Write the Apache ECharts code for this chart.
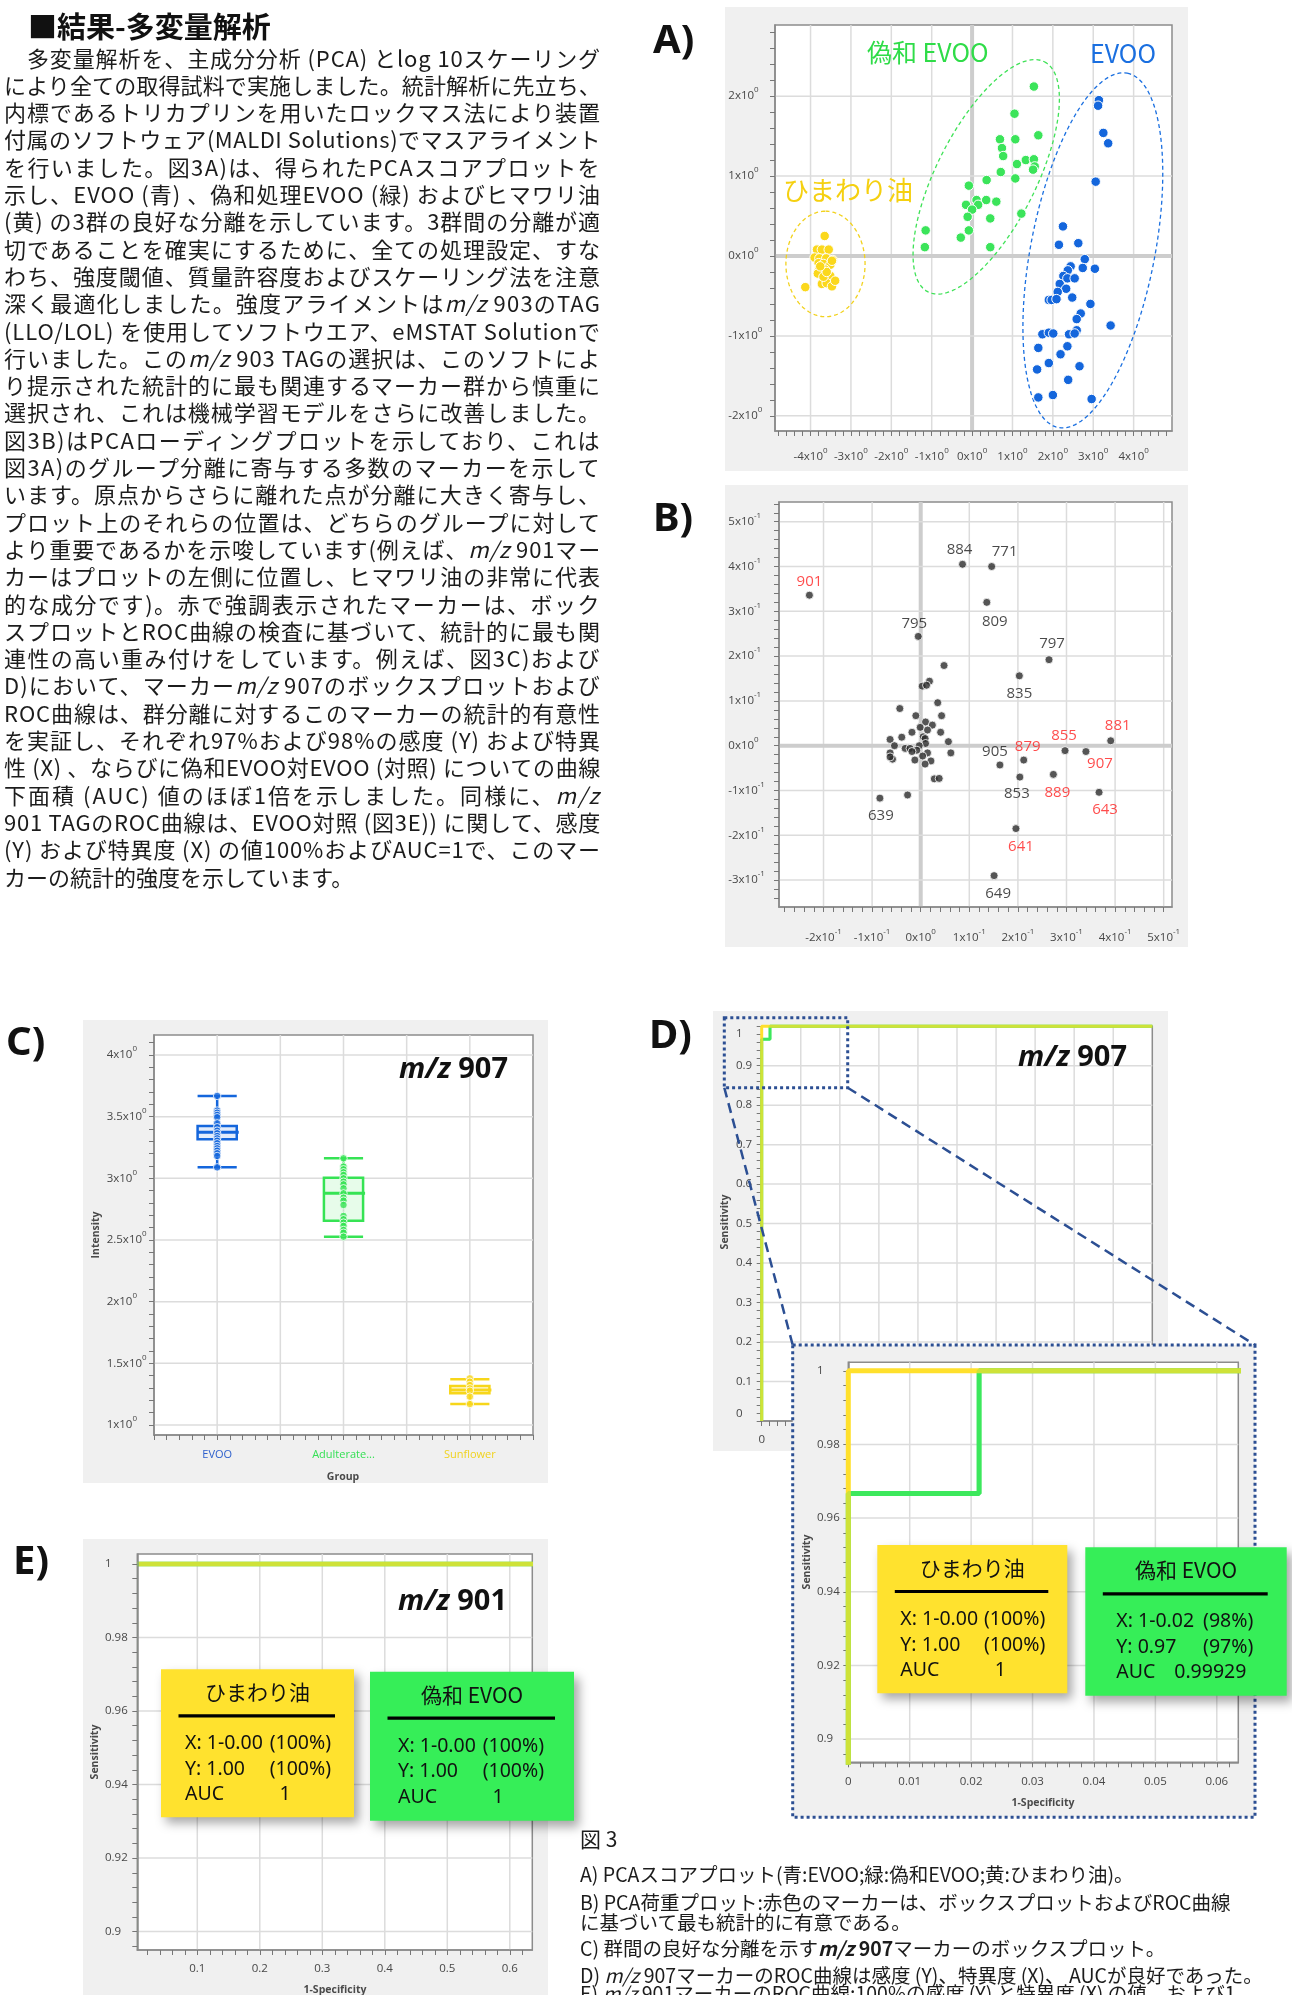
<!DOCTYPE html>
<html lang="ja">
<head>
<meta charset="utf-8">
<title>結果-多変量解析 図3</title>
<script src="https://cdn.jsdelivr.net/npm/echarts@6/dist/echarts.min.js"></script>
<style>
html, body { margin: 0; padding: 0; background: #fff; }
#page { position: relative; width: 1292px; height: 1995px; overflow: hidden; }
#chart { position: absolute; left: 0; top: 0; width: 1292px; height: 1995px; }
.txt { position: absolute; z-index: 2; font-family: "Noto Sans CJK JP", "Noto Sans", sans-serif; color: #1c1c1c; white-space: nowrap; }
#title { left: 28px; top: 6px; font-size: 29px; font-weight: 700; line-height: 38px; color: #111; }
.pline { position: absolute; left: 4px; font-size: 22px; line-height: 27px; height: 27px; }
.pline span { white-space: nowrap; }
.cline { position: absolute; left: 580px; font-size: 19.5px; line-height: 24px; height: 24px; }
</style>
</head>
<body>
<div id="page">
  <div id="chart"></div>
  <div id="title" class="txt">■結果-多変量解析</div>
  <div id="para"></div>
  <div id="caption"></div>
</div>
<script>
// ---------------- body text ----------------
const bodyLines = [
  '　多変量解析を、主成分分析 (PCA) とlog 10スケーリング',
  'により全ての取得試料で実施しました。統計解析に先立ち、',
  '内標であるトリカプリンを用いたロックマス法により装置',
  '付属のソフトウェア(MALDI Solutions)でマスアライメント',
  'を行いました。図3A)は、得られたPCAスコアプロットを',
  '示し、EVOO (青) 、偽和処理EVOO (緑) およびヒマワリ油',
  '(黄) の3群の良好な分離を示しています。3群間の分離が適',
  '切であることを確実にするために、全ての処理設定、すな',
  'わち、強度閾値、質量許容度およびスケーリング法を注意',
  '深く最適化しました。強度アライメントは<i>m/z</i> 903のTAG',
  '(LLO/LOL) を使用してソフトウエア、eMSTAT Solutionで',
  '行いました。この<i>m/z</i> 903 TAGの選択は、このソフトによ',
  'り提示された統計的に最も関連するマーカー群から慎重に',
  '選択され、これは機械学習モデルをさらに改善しました。',
  '図3B)はPCAローディングプロットを示しており、これは',
  '図3A)のグループ分離に寄与する多数のマーカーを示して',
  'います。原点からさらに離れた点が分離に大きく寄与し、',
  'プロット上のそれらの位置は、どちらのグループに対して',
  'より重要であるかを示唆しています(例えば、<i>m/z</i> 901マー',
  'カーはプロットの左側に位置し、ヒマワリ油の非常に代表',
  '的な成分です)。赤で強調表示されたマーカーは、ボック',
  'スプロットとROC曲線の検査に基づいて、統計的に最も関',
  '連性の高い重み付けをしています。例えば、図3C)および',
  'D)において、マーカー<i>m/z</i> 907のボックスプロットおよび',
  'ROC曲線は、群分離に対するこのマーカーの統計的有意性',
  'を実証し、それぞれ97%および98%の感度 (Y) および特異',
  '性 (X) 、ならびに偽和EVOO対EVOO (対照) についての曲線',
  '下面積 (AUC) 値のほぼ1倍を示しました。同様に、<i>m/z</i>',
  '901 TAGのROC曲線は、EVOO対照 (図3E)) に関して、感度',
  '(Y) および特異度 (X) の値100%およびAUC=1で、このマー',
  'カーの統計的強度を示しています。'
];
const captionLines = [
  '図 3',
  'A) PCAスコアプロット(青:EVOO;緑:偽和EVOO;黄:ひまわり油)。',
  'B)  PCA荷重プロット:赤色のマーカーは、ボックスプロットおよびROC曲線',
  'に基づいて最も統計的に有意である。',
  'C) 群間の良好な分離を示す<b><i>m/z</i> 907</b>マーカーのボックスプロット。',
  'D) <i>m/z</i> 907マーカーのROC曲線は感度 (Y)、特異度 (X)、 AUCが良好であった。',
  'E)  <i>m/z</i> 901マーカーのROC曲線:100%の感度 (Y) と特異度 (X) の値、および1'
];
const captionCenters = [1838, 1874, 1902, 1922, 1948, 1975, 1993];

const para = document.getElementById('para');
bodyLines.forEach((s, i) => {
  const d = document.createElement('div');
  d.className = 'pline txt';
  d.style.top = (57 - 13.5 + i * 27.3) + 'px';
  const sp = document.createElement('span');
  sp.innerHTML = s;
  d.appendChild(sp);
  para.appendChild(d);
  // justify every line except the paragraph's last one
  const target = 597;
  const w = sp.getBoundingClientRect().width;
  if (i === bodyLines.length - 1) return;
  if (w > target) {
    sp.style.display = 'inline-block';
    sp.style.transformOrigin = '0 50%';
    sp.style.transform = 'scaleX(' + (target / w) + ')';
  } else {
    const n = sp.textContent.length;
    sp.style.letterSpacing = ((target - w) / n) + 'px';
  }
});
const cap = document.getElementById('caption');
captionLines.forEach((s, i) => {
  const d = document.createElement('div');
  d.className = 'cline txt';
  d.style.top = (captionCenters[i] - 12) + 'px';
  if (i === 0) d.style.fontSize = '21px';
  d.innerHTML = s;
  cap.appendChild(d);
});

// ---------------- A) PCA score plot ----------------
const pcaSunflower = [
  [-3.65, 0.25], [-3.84, 0.08], [-3.72, 0.08], [-3.55, 0.08], [-3.90, -0.02], [-3.78, -0.03],
  [-3.61, -0.03], [-3.45, -0.05], [-3.80, -0.09], [-3.68, -0.10], [-3.51, -0.11], [-3.79, -0.17],
  [-3.64, -0.17], [-3.82, -0.22], [-3.51, -0.25], [-3.72, -0.35], [-3.60, -0.34], [-3.47, -0.38],
  [-3.39, -0.31], [-4.13, -0.39], [-3.68, -0.26], [-3.60, -0.20], [-3.76, -0.13], [-3.47, -0.06]
];
const pcaAdulterated = [
  [1.53, 2.12], [1.05, 1.78], [0.69, 1.46], [1.07, 1.46], [1.64, 1.51], [0.74, 1.35],
  [0.77, 1.25], [1.33, 1.20], [1.53, 1.21], [1.11, 1.15], [1.55, 1.12], [1.51, 1.08],
  [0.71, 1.05], [1.07, 0.97], [0.36, 0.95], [-0.08, 0.88], [0.35, 0.70], [0.11, 0.70],
  [0.15, 0.64], [-0.15, 0.64], [0.60, 0.68], [0.00, 0.58], [1.22, 0.53], [-0.11, 0.49],
  [0.45, 0.47], [-0.08, 0.32], [-1.15, 0.32], [-0.28, 0.23], [-1.17, 0.11], [0.45, 0.11]
];
const pcaEvoo = [
  [3.14, 1.95], [3.12, 1.88], [3.25, 1.54], [3.37, 1.41], [3.06, 0.93], [2.25, 0.37],
  [2.15, 0.14], [2.63, 0.16], [2.79, -0.04], [2.44, -0.13], [2.74, -0.15], [3.04, -0.16],
  [2.37, -0.18], [2.26, -0.25], [2.36, -0.28], [2.54, -0.28], [2.17, -0.35], [2.33, -0.41],
  [2.12, -0.45], [2.48, -0.52], [1.90, -0.55], [1.97, -0.55], [2.09, -0.54], [2.93, -0.60],
  [2.69, -0.72], [2.59, -0.79], [3.43, -0.87], [2.59, -0.93], [1.74, -0.98], [1.90, -0.96],
  [2.01, -0.97], [2.40, -0.98], [2.54, -0.97], [1.64, -1.15], [2.36, -1.13], [2.19, -1.23],
  [1.90, -1.34], [2.66, -1.38], [1.61, -1.42], [2.38, -1.55], [1.64, -1.77], [2.00, -1.74],
  [2.96, -1.79]
];
// group ellipses: centre, major semi-axis vector, minor semi-axis vector (score units)
const ellipseSunflower = { center: [-3.63, -0.10], major: [0, 0.66], minor: [0.98, 0] };
const ellipseAdulterated = { center: [0.35, 0.99], major: [1.44, 1.44], minor: [1.10, -0.28] };
const ellipseEvoo = { center: [2.99, 0.07], major: [0.853, 2.217], minor: [1.507, -0.148] };
const pcaXTicks = [-4, -3, -2, -1, 0, 1, 2, 3, 4];
const pcaYTicks = [-2, -1, 0, 1, 2];

// ---------------- B) PCA loading plot ----------------
const loadingNames = ['901', '884', '771', '809', '795', '797', '835', '881', '855', '907', '879', '905', '853', '889', '643', '641', '649', '639'];
const loadingLabeled = [
  [-0.229, 0.336], [0.086, 0.405], [0.146, 0.400], [0.136, 0.320], [-0.005, 0.244], [0.264, 0.192],
  [0.203, 0.156], [0.391, 0.011], [0.297, -0.011], [0.340, -0.013], [0.212, -0.032], [0.163, -0.043],
  [0.204, -0.070], [0.273, -0.064], [0.367, -0.104], [0.196, -0.185], [0.151, -0.290], [-0.084, -0.117]
];
const loadingOthers = [
  [0.048, 0.179], [0.018, 0.144], [0.003, 0.133], [0.012, 0.135], [0.035, 0.096], [-0.043, 0.083],
  [-0.010, 0.067], [0.043, 0.067], [0.010, 0.053], [-0.001, 0.041], [0.024, 0.046], [0.014, 0.035],
  [-0.018, 0.030], [0.041, 0.030], [-0.039, 0.019], [-0.063, 0.014], [0.005, 0.020], [0.009, 0.016],
  [0.057, 0.009], [-0.054, 0.000], [0.010, 0.005], [-0.003, 0.000], [-0.032, -0.006], [-0.022, -0.006],
  [-0.008, -0.010], [-0.063, -0.016], [-0.018, -0.013], [0.014, -0.016], [0.062, -0.016], [0.004, -0.023],
  [-0.012, -0.032], [-0.058, -0.030], [0.021, -0.034], [0.009, -0.041], [0.028, -0.074], [0.038, -0.073],
  [-0.027, -0.110], [-0.063, -0.025]
];
const significantMarkers = ['901', '881', '855', '907', '879', '889', '643', '641'];
const loadingXTicks = [-0.2, -0.1, 0, 0.1, 0.2, 0.3, 0.4, 0.5];
const loadingYTicks = [-0.3, -0.2, -0.1, 0, 0.1, 0.2, 0.3, 0.4, 0.5];

// ---------------- C) m/z 907 box plot ----------------
const boxGroups = ['EVOO', 'Adulterate...', 'Sunflower'];
// [min, Q1, median, Q3, max]
const evooStats907 = [3.089, 3.316, 3.373, 3.424, 3.668];
const adulteratedStats907 = [2.527, 2.657, 2.878, 3.005, 3.162];
const sunflowerStats907 = [1.170, 1.257, 1.284, 1.316, 1.370];
const evooIntensity907 = [3.668, 3.549, 3.532, 3.514, 3.495, 3.446, 3.414, 3.386, 3.365, 3.343, 3.324, 3.305, 3.284, 3.262, 3.243, 3.224, 3.203, 3.181, 3.089];
const adulteratedIntensity907 = [3.162, 3.095, 3.073, 3.049, 3.027, 3.000, 2.973, 2.951, 2.919, 2.878, 2.843, 2.819, 2.784, 2.695, 2.668, 2.641, 2.614, 2.581, 2.559, 2.527];
const sunflowerIntensity907 = [1.378, 1.351, 1.324, 1.297, 1.278, 1.230, 1.170];
const intensityTicks = [1, 1.5, 2, 2.5, 3, 3.5, 4];

// ---------------- D) / E) ROC curves ----------------
const rocSunflower907 = [[0, 0], [0, 1], [1, 1]];
const rocAdulterated907 = [[0, 0], [0, 0.9667], [0.0213, 0.9667], [0.0213, 1], [1, 1]];
const cutSunflower907 = [0, 1];           // [1-specificity, sensitivity] at the chosen cut-off
const cutAdulterated907 = [0.0213, 0.9667];
const rocSunflower901 = [[0, 0], [0, 1], [1, 1]];
const rocAdulterated901 = [[0, 0], [0, 1], [1, 1]];
const cutSunflower901 = [0, 1];
const cutAdulterated901 = [0, 1];
const rocMainTicks = [0, 0.1, 0.2, 0.3, 0.4, 0.5, 0.6, 0.7, 0.8, 0.9, 1];
const rocZoomXTicks = [0, 0.01, 0.02, 0.03, 0.04, 0.05, 0.06];
const sensZoomTicks = [0.9, 0.92, 0.94, 0.96, 0.98, 1];
const specTicks901 = [0.1, 0.2, 0.3, 0.4, 0.5, 0.6];

// ---------------- styling ----------------
const FONT = '"Open Sans", "Noto Sans", sans-serif';
const JP = '"Noto Sans CJK JP", "Noto Sans", sans-serif';
const C_EVOO = '#1466dc', C_ADUL = '#3be45a', C_SUN = '#fbd81c';
const ROC_GREEN = '#3ce85c', ROC_YELLOW = '#ffe02c';
const LABEL_C = '#474747';

function steps(a, b, s) {
  const out = [];
  const n = Math.round((b - a) / s);
  for (let i = 0; i <= n; i++) out.push(+(a + i * s).toFixed(6));
  return out;
}
function trimNum(v) { return String(+v.toFixed(4)); }
function aucOf(curve) {
  let a = 0;
  for (let i = 1; i < curve.length; i++) a += (curve[i][0] - curve[i - 1][0]) * (curve[i][1] + curve[i - 1][1]) / 2;
  return a;
}

const supRich = {
  b: { fontSize: 11.5, fontFamily: FONT, color: LABEL_C, lineHeight: 14 },
  s: { fontSize: 8, fontFamily: FONT, color: LABEL_C, lineHeight: 9, padding: [0, 0, 12, 0] }
};
const sciPow0 = v => '{b|' + trimNum(v) + 'x10}{s|0}';
const sciLoading = v => {
  const m = Math.round(v * 10);
  return m === 0 ? '{b|0x10}{s|0}' : '{b|' + m + 'x10}{s|-1}';
};

function axis(gridIndex, min, max, ticks, labels, formatter, labelOpt, z) {
  return {
    type: 'value', gridIndex, min, max, z,
    axisLine: { show: true, onZero: false, lineStyle: { color: '#8a8a8a', width: 1.5 } },
    axisTick: { show: true, customValues: ticks, length: 5, lineStyle: { color: '#777', width: 1 } },
    minorTick: { show: false },
    splitLine: { show: false },
    axisLabel: Object.assign({
      show: true, customValues: labels, formatter, color: LABEL_C,
      fontSize: 11.5, fontFamily: FONT, hideOverlap: false
    }, labelOpt)
  };
}

function gridLineSeries(idx, xs, ys, z, thickZero) {
  const data = [];
  xs.forEach(v => data.push([0, v, thickZero && v === 0 ? 4 : 1.5]));
  ys.forEach(v => data.push([1, v, thickZero && v === 0 ? 4 : 1.5]));
  return {
    type: 'custom', xAxisIndex: idx, yAxisIndex: idx, z, silent: true, clip: false, data,
    renderItem: (params, api) => {
      const cs = params.coordSys;
      const dir = api.value(0), v = api.value(1), w = api.value(2);
      const stroke = w > 2 ? '#cdcdcd' : '#dcdcdc';
      if (dir === 0) {
        const x = api.coord([v, 1])[0];
        return { type: 'line', shape: { x1: x, y1: cs.y, x2: x, y2: cs.y + cs.height }, style: { stroke, lineWidth: w } };
      }
      const y = api.coord([0, v])[1];
      return { type: 'line', shape: { x1: cs.x, y1: y, x2: cs.x + cs.width, y2: y }, style: { stroke, lineWidth: w } };
    }
  };
}

// ROC curves: green, then yellow, then a faint green pass so the shared stretches read lime
function rocSeries(idx, green, yellow, width, z, clip) {
  const base = { type: 'line', xAxisIndex: idx, yAxisIndex: idx, showSymbol: false, symbol: 'none', silent: true, clip };
  return [
    Object.assign({}, base, { data: green, z, lineStyle: { color: ROC_GREEN, width } }),
    Object.assign({}, base, { data: yellow, z: z + 1, lineStyle: { color: ROC_YELLOW, width } }),
    Object.assign({}, base, { data: green, z: z + 2, lineStyle: { color: ROC_GREEN, width, opacity: 0.25 } })
  ];
}
// same layering, drawn as a custom polyline so the clip follows the plot frame exactly
function rocCustomSeries(idx, green, yellow, width, z) {
  const layer = (curve, color, opacity, zz) => ({
    type: 'custom', xAxisIndex: idx, yAxisIndex: idx, z: zz, silent: true, clip: true, data: curve,
    renderItem: (params, api) => params.dataIndex !== 0 ? null : {
      type: 'polyline',
      shape: { points: curve.map(p => api.coord(p)) },
      style: { stroke: color, lineWidth: width, opacity, fill: 'none' }
    }
  });
  return [layer(green, ROC_GREEN, 1, z), layer(yellow, ROC_YELLOW, 1, z + 1), layer(green, ROC_GREEN, 0.25, z + 2)];
}

// ---------------- layout ----------------
const grids = [
  { left: 775, top: 25, width: 397, height: 406 },        // A
  { left: 779, top: 502, width: 393, height: 405 },       // B
  { left: 154, top: 1035, width: 379, height: 400 },      // C
  { left: 761.7, top: 1026.2, width: 390.6, height: 394.8 }, // D
  { left: 848.3, top: 1362.3, width: 390, height: 400 },  // D zoom
  { left: 137.3, top: 1554, width: 395, height: 396 }     // E
].map((g, i) => Object.assign({
  show: true, backgroundColor: '#fff', borderColor: '#8c8c8c', borderWidth: 1.5, z: i === 4 ? 11 : 1
}, g));

const rocYRich = {
  n: { fontSize: 11.5, fontFamily: FONT, color: LABEL_C },
  dn: { fontSize: 11.5, fontFamily: FONT, color: LABEL_C, padding: [16, 0, 0, 0] },
  up: { fontSize: 11.5, fontFamily: FONT, color: LABEL_C, padding: [0, 0, 14, 0] }
};
const catColors = { g0: '#2c5fcc', g1: '#35e055', g2: '#f0d320' };
const catRich = {};
Object.keys(catColors).forEach(k => { catRich[k] = { color: catColors[k], fontSize: 11, fontFamily: FONT }; });

const xAxes = [
  axis(0, -4.88, 4.95, steps(-4.8, 4.8, 0.2), pcaXTicks, sciPow0, { margin: 19, rich: supRich }, 4),
  axis(1, -0.2916, 0.5171, steps(-0.28, 0.5, 0.02), loadingXTicks, sciLoading, { margin: 24, rich: supRich }, 4),
  axis(2, 0, 3, steps(0, 3, 0.1), [0.5, 1.5, 2.5], v => { const i = Math.floor(v); return '{g' + i + '|' + boxGroups[i] + '}'; }, { margin: 14, rich: catRich }, 4),
  axis(3, 0, 1, steps(0, 1, 0.02), rocMainTicks, trimNum, { margin: 13 }, 4),
  axis(4, 0, 0.0635, steps(0, 0.062, 0.002), rocZoomXTicks, trimNum, { margin: 13 }, 12),
  axis(5, 0.004, 0.636, steps(0.02, 0.62, 0.02), specTicks901, trimNum, { margin: 13 }, 4)
];
const yAxes = [
  axis(0, -2.19, 2.89, steps(-2.0, 2.8, 0.2), pcaYTicks, sciPow0, { margin: 46.7, align: 'left', rich: supRich }, 4),
  axis(1, -0.36, 0.544, steps(-0.34, 0.54, 0.02), loadingYTicks, sciLoading, { margin: 50.7, align: 'left', rich: supRich }, 4),
  axis(2, 0.919, 4.162, steps(1.0, 4.1, 0.1), intensityTicks, sciPow0, { margin: 47.3, align: 'left', rich: supRich }, 4),
  axis(3, 0, 1, steps(0, 1, 0.02), rocMainTicks, v => v === 1 ? '{dn|1}' : v === 0 ? '{up|0}' : '{n|' + trimNum(v) + '}', { margin: 25.7, align: 'left', rich: rocYRich }, 4),
  axis(4, 0.8937, 1.0023, steps(0.896, 1.0, 0.004), sensZoomTicks, trimNum, { margin: 31.3, align: 'left' }, 12),
  axis(5, 0.895, 1.0027, steps(0.896, 1.0, 0.004), sensZoomTicks, trimNum, { margin: 32.3, align: 'left' }, 4)
];

// ---------------- series ----------------
const series = [];
// A
series.push(gridLineSeries(0, pcaXTicks, pcaYTicks, 2, true));
const ellipses = [ellipseSunflower, ellipseAdulterated, ellipseEvoo];
const ellipseColors = ['#f2d21e', '#3fe257', '#1a6fe0'];
series.push({
  type: 'custom', xAxisIndex: 0, yAxisIndex: 0, z: 3, silent: true, clip: false,
  data: ellipses.map((e, i) => [e.center[0], e.center[1], i]),
  renderItem: (params, api) => {
    const e = ellipses[params.dataIndex];
    const pts = [];
    for (let k = 0; k <= 144; k++) {
      const t = k / 144 * 2 * Math.PI;
      pts.push(api.coord([
        e.center[0] + e.major[0] * Math.cos(t) + e.minor[0] * Math.sin(t),
        e.center[1] + e.major[1] * Math.cos(t) + e.minor[1] * Math.sin(t)
      ]));
    }
    return { type: 'polyline', shape: { points: pts }, style: { stroke: ellipseColors[params.dataIndex], lineWidth: 1.3, lineDash: [4, 3], fill: 'none' } };
  }
});
[[pcaSunflower, C_SUN], [pcaAdulterated, C_ADUL], [pcaEvoo, C_EVOO]].forEach(([d, c]) => {
  series.push({
    type: 'scatter', xAxisIndex: 0, yAxisIndex: 0, z: 4, silent: true, data: d, symbolSize: 9.5,
    itemStyle: { color: c, borderColor: '#fff', borderWidth: 1, opacity: 1 }
  });
});

// B
series.push(gridLineSeries(1, loadingXTicks, loadingYTicks, 2, true));
series.push({
  type: 'scatter', xAxisIndex: 1, yAxisIndex: 1, z: 4, silent: true, data: loadingOthers, symbolSize: 8,
  itemStyle: { color: '#2a2a2a', borderColor: '#fff', borderWidth: 1 }
});
// label placement: [position, dx, dy]
const loadingLabelPlace = {
  '901': ['top', 0, 2], '884': ['top', -3, 0], '771': ['top', 13, 0], '809': ['bottom', 8, 4],
  '795': ['top', -4, 2], '797': ['top', 3, -1], '835': ['bottom', 0, 3], '881': ['top', 7, 0],
  '855': ['top', -1, 0], '907': ['bottom', 14, -3], '879': ['top', 4, 2], '905': ['top', -5, 2],
  '853': ['bottom', -3, 2], '889': ['bottom', 4, 3], '643': ['bottom', 6, 2], '641': ['bottom', 5, 3],
  '649': ['bottom', 4, 3], '639': ['bottom', 1, 3]
};
series.push({
  type: 'scatter', xAxisIndex: 1, yAxisIndex: 1, z: 5, silent: true, symbolSize: 8,
  itemStyle: { color: '#2a2a2a', borderColor: '#fff', borderWidth: 1 },
  label: { show: true, formatter: '{b}', fontSize: 15, fontFamily: FONT, distance: 3 },
  data: loadingLabeled.map((p, i) => {
    const name = loadingNames[i];
    const pl = loadingLabelPlace[name];
    return {
      value: p, name,
      label: { position: pl[0], offset: [pl[1], pl[2]], color: significantMarkers.includes(name) ? '#ff1f1f' : '#1c1c1c' }
    };
  })
});

// C
series.push(gridLineSeries(2, [0.5, 1, 1.5, 2, 2.5], intensityTicks, 2, false));
const boxStats = [evooStats907, adulteratedStats907, sunflowerStats907];
const boxColors = [C_EVOO, '#36e354', '#f7d61a'];
const boxFills = ['rgba(20,102,220,0.12)', 'rgba(54,227,84,0.12)', 'rgba(247,214,26,0.15)'];
series.push({
  type: 'custom', xAxisIndex: 2, yAxisIndex: 2, z: 3, silent: true,
  data: boxStats.map((s, i) => [i + 0.5].concat(s)),
  renderItem: (params, api) => {
    const x = api.value(0);
    const lo = api.value(1), q1 = api.value(2), med = api.value(3), q3 = api.value(4), hi = api.value(5);
    const c = boxColors[params.dataIndex];
    const half = 0.155;
    const xl = api.coord([x - half, med])[0], xr = api.coord([x + half, med])[0], xc = api.coord([x, med])[0];
    const y = v => api.coord([x, v])[1];
    const st = { stroke: c, lineWidth: 2.5 };
    return {
      type: 'group', children: [
        { type: 'rect', shape: { x: xl, y: y(q3), width: xr - xl, height: y(q1) - y(q3) }, style: { fill: boxFills[params.dataIndex], stroke: c, lineWidth: 2.5 } },
        { type: 'line', shape: { x1: xc, y1: y(hi), x2: xc, y2: y(q3) }, style: st },
        { type: 'line', shape: { x1: xc, y1: y(q1), x2: xc, y2: y(lo) }, style: st },
        { type: 'line', shape: { x1: xl, y1: y(hi), x2: xr, y2: y(hi) }, style: st },
        { type: 'line', shape: { x1: xl, y1: y(lo), x2: xr, y2: y(lo) }, style: st },
        { type: 'line', shape: { x1: xl, y1: y(med), x2: xr + 2, y2: y(med) }, style: { stroke: c, lineWidth: 3 } }
      ]
    };
  }
});
[[evooIntensity907, 0, C_EVOO], [adulteratedIntensity907, 1, '#36e354'], [sunflowerIntensity907, 2, '#f7d61a']].forEach(([d, i, c]) => {
  series.push({
    type: 'scatter', xAxisIndex: 2, yAxisIndex: 2, z: 4, silent: true, symbolSize: 7.5,
    data: d.map(v => [i + 0.5, v]),
    itemStyle: { color: c, borderColor: '#fff', borderWidth: 1 }
  });
});

// D main
series.push(gridLineSeries(3, steps(0.1, 0.9, 0.1), steps(0.1, 0.9, 0.1), 2, false));
series.push(...rocSeries(3, rocAdulterated907, rocSunflower907, 3, 3, false));
// D zoom
series.push(gridLineSeries(4, [0.01, 0.02, 0.03, 0.04, 0.05, 0.06], sensZoomTicks, 12, false));
series.push(...rocSeries(4, rocAdulterated907, rocSunflower907, 5, 13, true));
// E
series.push(gridLineSeries(5, specTicks901, sensZoomTicks, 2, false));
series.push(...rocCustomSeries(5, rocAdulterated901, rocSunflower901, 4.5, 3));

// ---------------- annotations ----------------
function txt(x, y, text, o, z) {
  return {
    type: 'text', x, y, z: z || 5, silent: true,
    style: Object.assign({ text, fill: '#111', fontFamily: FONT, fontSize: 12, align: 'left', verticalAlign: 'middle' }, o)
  };
}
function mzTitle(xRight, yc, mz) {
  return txt(xRight, yc, '{i|m/z}{b| ' + mz + '}', {
    align: 'right',
    rich: {
      i: { fontFamily: FONT, fontSize: 29, fontWeight: 'bold', fontStyle: 'italic', fill: '#111' },
      b: { fontFamily: FONT, fontSize: 29, fontWeight: 'bold', fill: '#111' }
    }
  }, 6);
}
function axisName(x, y, text, rotate, z) {
  const e = txt(x, y, text, { fontSize: 10.5, fontWeight: 'bold', fill: '#4a4a4a', align: 'center' }, z);
  if (rotate) e.rotation = Math.PI / 2;
  return e;
}
function fmtAuc(a) { return a > 0.999995 ? '1' : a.toFixed(5); }
// statistic box drawn as absolute elements (each with its own z so it sits above the plots)
function statBox(b, title, cut, curve) {
  const fpr = cut[0], sens = cut[1];
  const rows = [
    ['X: 1-' + fpr.toFixed(2), '(' + Math.round((1 - fpr) * 100) + '%)'],
    ['Y: ' + sens.toFixed(2), '(' + Math.round(sens * 100) + '%)']
  ];
  const rowY = [74.5, 100, 125.3];
  const f = { fontFamily: '"Noto Sans", "Open Sans", sans-serif', fontSize: 19.5, fill: '#111' };
  const Z = 20;
  const els = [
    { type: 'rect', z: Z, silent: true, shape: { x: b.x, y: b.y, width: b.w, height: b.h }, style: { fill: b.fill, shadowBlur: 10, shadowColor: 'rgba(0,0,0,0.35)', shadowOffsetX: 5, shadowOffsetY: 6 } },
    { type: 'text', z: Z + 1, silent: true, x: b.x + b.w / 2, y: b.y + 23, style: { text: title, fontFamily: JP, fontSize: 21, fill: '#111', align: 'center', verticalAlign: 'middle' } },
    { type: 'line', z: Z + 1, silent: true, shape: { x1: b.x + 17.5, y1: b.y + 46.5, x2: b.x + b.w - 19, y2: b.y + 46.5 }, style: { stroke: '#000', lineWidth: 3.2 } }
  ];
  rows.forEach((r, i) => {
    els.push({ type: 'text', z: Z + 1, silent: true, x: b.x + b.col1, y: b.y + rowY[i], style: Object.assign({ text: r[0], align: 'left', verticalAlign: 'middle' }, f) });
    els.push({ type: 'text', z: Z + 1, silent: true, x: b.x + b.col2, y: b.y + rowY[i], style: Object.assign({ text: r[1], align: 'right', verticalAlign: 'middle' }, f) });
  });
  els.push({ type: 'text', z: Z + 1, silent: true, x: b.x + b.col1, y: b.y + rowY[2], style: Object.assign({ text: 'AUC', align: 'left', verticalAlign: 'middle' }, f) });
  els.push({ type: 'text', z: Z + 1, silent: true, x: b.x + b.aucX, y: b.y + rowY[2], style: Object.assign({ text: fmtAuc(aucOf(curve)), align: 'center', verticalAlign: 'middle' }, f) });
  return els;
}
const Y_BOX = '#ffe22e', G_BOX = '#36ee58';
const DOT = '#2c4f93';

const graphics = [
  // panel backgrounds
  { type: 'rect', z: -10, shape: { x: 725, y: 7, width: 463, height: 464 }, style: { fill: '#f0f0f0' } },
  { type: 'rect', z: -10, shape: { x: 725, y: 485, width: 463, height: 462 }, style: { fill: '#f0f0f0' } },
  { type: 'rect', z: -10, shape: { x: 83, y: 1020, width: 465, height: 463 }, style: { fill: '#f0f0f0' } },
  { type: 'rect', z: -10, shape: { x: 713, y: 1011, width: 455, height: 440 }, style: { fill: '#f0f0f0' } },
  { type: 'rect', z: -10, shape: { x: 83, y: 1539, width: 465, height: 470 }, style: { fill: '#f0f0f0' } },
  // panel letters
  txt(653, 42, 'A)', { fontFamily: '"Noto Sans", sans-serif', fontSize: 40, fontWeight: 'bold' }, 5),
  txt(653, 520, 'B)', { fontFamily: '"Noto Sans", sans-serif', fontSize: 40, fontWeight: 'bold' }, 5),
  txt(6, 1044, 'C)', { fontFamily: '"Noto Sans", sans-serif', fontSize: 40, fontWeight: 'bold' }, 5),
  txt(649, 1037, 'D)', { fontFamily: '"Noto Sans", sans-serif', fontSize: 40, fontWeight: 'bold' }, 5),
  txt(13, 1563, 'E)', { fontFamily: '"Noto Sans", sans-serif', fontSize: 40, fontWeight: 'bold' }, 5),
  // A group names
  txt(867, 52, '偽和 EVOO', { fontFamily: JP, fontSize: 25, fill: '#2fdc48' }, 6),
  txt(1090, 53, 'EVOO', { fontFamily: JP, fontSize: 25, fill: '#1a6fe0' }, 6),
  txt(783, 190, 'ひまわり油', { fontFamily: JP, fontSize: 26, fill: '#f5d010' }, 6),
  // titles
  mzTitle(508, 1070, '907'),
  mzTitle(1127, 1058, '907'),
  mzTitle(507, 1602, '901'),
  // axis names
  axisName(96, 1235, 'Intensity', true, 5),
  axisName(343, 1477, 'Group', false, 5),
  axisName(725, 1222, 'Sensitivity', true, 5),
  axisName(95, 1752, 'Sensitivity', true, 5),
  axisName(335, 1990, '1-Specificity', false, 5),
  // magnifier: small frame and connectors
  { type: 'rect', z: 9, silent: true, shape: { x: 724.3, y: 1017.7, width: 123.4, height: 70 }, style: { fill: 'none', stroke: DOT, lineWidth: 3, lineDash: [3, 3] } },
  { type: 'line', z: 9, silent: true, shape: { x1: 724.3, y1: 1087.7, x2: 792.7, y2: 1345 }, style: { stroke: DOT, lineWidth: 2.5, lineDash: [10, 6] } },
  { type: 'line', z: 9, silent: true, shape: { x1: 847.7, y1: 1087.7, x2: 1255, y2: 1345 }, style: { stroke: DOT, lineWidth: 2.5, lineDash: [10, 6] } },
  // zoomed inset frame
  { type: 'rect', z: 10, silent: true, shape: { x: 792.7, y: 1345, width: 462.3, height: 472.3 }, style: { fill: '#f0f0f0' } },
  { type: 'rect', z: 14, silent: true, shape: { x: 792.7, y: 1345, width: 462.3, height: 472.3 }, style: { fill: 'none', stroke: DOT, lineWidth: 3, lineDash: [3, 3] } },
  axisName(807, 1562, 'Sensitivity', true, 13),
  axisName(1043, 1803, '1-Specificity', false, 13)
].concat(
  statBox({ x: 877.3, y: 1545, w: 190, h: 148.3, fill: Y_BOX, col1: 23, col2: 168, aucX: 123 }, 'ひまわり油', cutSunflower907, rocSunflower907),
  statBox({ x: 1085.3, y: 1547.3, w: 201.4, h: 148.4, fill: G_BOX, col1: 31, col2: 168, aucX: 125 }, '偽和 EVOO', cutAdulterated907, rocAdulterated907),
  statBox({ x: 161, y: 1669.3, w: 193, h: 148, fill: Y_BOX, col1: 24, col2: 170, aucX: 124 }, 'ひまわり油', cutSunflower901, rocSunflower901),
  statBox({ x: 370, y: 1671.7, w: 204, h: 149, fill: G_BOX, col1: 28, col2: 174, aucX: 128 }, '偽和 EVOO', cutAdulterated901, rocAdulterated901)
);

const chart = echarts.init(document.getElementById('chart'), null, { renderer: 'canvas', width: 1292, height: 1995 });
chart.setOption({
  animation: false,
  backgroundColor: 'transparent',
  grid: grids,
  xAxis: xAxes,
  yAxis: yAxes,
  series,
  graphic: { elements: graphics }
});
</script>
</body>
</html>
